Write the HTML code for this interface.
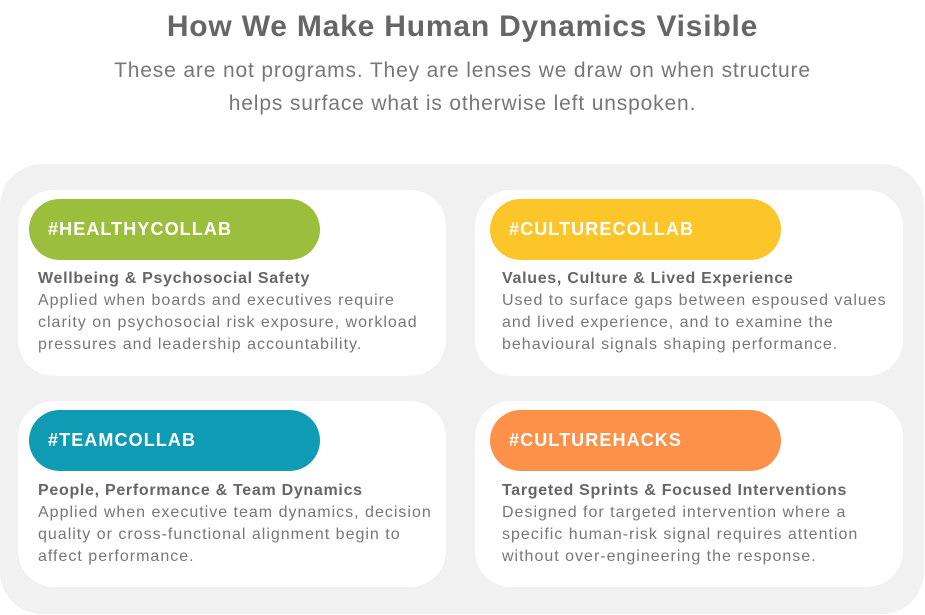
<!DOCTYPE html>
<html><head><meta charset="utf-8"><style>
*{margin:0;padding:0;box-sizing:border-box}
body{width:925px;height:615px;background:#fff;font-family:"Liberation Sans",sans-serif;position:relative;overflow:hidden}
.t{position:absolute;left:0;width:925px;text-align:center;white-space:nowrap}
h1{position:absolute;left:0;width:925px;text-align:center;top:10px;font-size:30px;color:#666;font-weight:bold;letter-spacing:0.8px}
.sub{font-size:21px;color:#777;letter-spacing:0.85px}
.wrap{position:absolute;left:0;top:164px;width:924px;height:450px;background:#f1f1f1;border-radius:42px}
.card{position:absolute;width:428px;height:186px;background:#fff;border-radius:36px}
.pill{position:absolute;left:11px;top:9px;width:291px;height:61px;border-radius:31px;color:#fff;font-weight:bold;font-size:18px;padding-left:19px;line-height:61px;letter-spacing:1.1px}
.h{position:absolute;left:20px;top:80px;font-size:16px;font-weight:bold;color:#666;white-space:nowrap;letter-spacing:0.7px}
.b{position:absolute;left:20px;top:100px;font-size:16px;line-height:22px;color:#777;white-space:nowrap;letter-spacing:1px}
</style></head><body>
<h1>How We Make Human Dynamics Visible</h1>
<div class="t sub" style="top:59px">These are not programs. They are lenses we draw on when structure</div>
<div class="t sub" style="top:92px">helps surface what is otherwise left unspoken.</div>
<div class="wrap"></div>
<div class="card" style="left:18px;top:190px">
<div class="pill" style="background:#9bbf3d">#HEALTHYCOLLAB</div>
<div class="h">Wellbeing &amp; Psychosocial Safety</div>
<div class="b">Applied when boards and executives require<br>clarity on psychosocial risk exposure, workload<br>pressures and leadership accountability.</div>
</div>
<div class="card" style="left:475px;top:190px">
<div class="pill" style="left:15px;background:#fcc52a">#CULTURECOLLAB</div>
<div class="h" style="left:27px">Values, Culture &amp; Lived Experience</div>
<div class="b" style="left:27px">Used to surface gaps between espoused values<br>and lived experience, and to examine the<br>behavioural signals shaping performance.</div>
</div>
<div class="card" style="left:18px;top:401px">
<div class="pill" style="background:#0f9bb4">#TEAMCOLLAB</div>
<div class="h" style="top:81px">People, Performance &amp; Team Dynamics</div>
<div class="b" style="top:101px">Applied when executive team dynamics, decision<br>quality or cross-functional alignment begin to<br>affect performance.</div>
</div>
<div class="card" style="left:475px;top:401px">
<div class="pill" style="left:15px;background:#fd914a">#CULTUREHACKS</div>
<div class="h" style="left:27px;top:81px">Targeted Sprints &amp; Focused Interventions</div>
<div class="b" style="left:27px;top:101px">Designed for targeted intervention where a<br>specific human-risk signal requires attention<br>without over-engineering the response.</div>
</div>
</body></html>
